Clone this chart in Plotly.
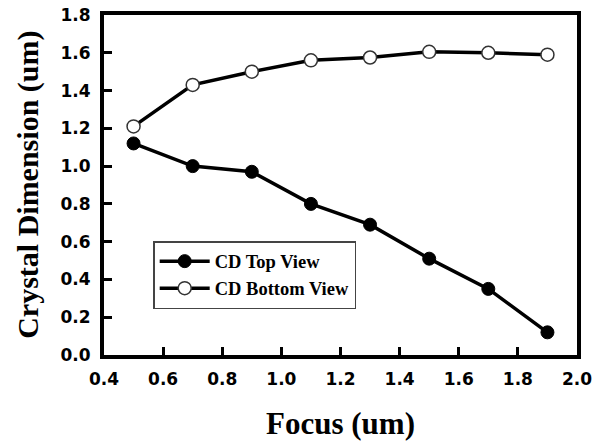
import plotly.graph_objects as go

focus = [0.5, 0.7, 0.9, 1.1, 1.3, 1.5, 1.7, 1.9]
cd_top = [1.12, 1.00, 0.97, 0.80, 0.69, 0.51, 0.35, 0.12]
cd_bottom = [1.21, 1.43, 1.50, 1.56, 1.575, 1.605, 1.60, 1.59]
x_ticks = [0.4, 0.6, 0.8, 1.0, 1.2, 1.4, 1.6, 1.8, 2.0]
y_ticks = [0.0, 0.2, 0.4, 0.6, 0.8, 1.0, 1.2, 1.4, 1.6, 1.8]

fig = go.Figure()
fig.add_trace(go.Scatter(
    x=focus, y=cd_top, name="CD Top View", mode="lines+markers",
    line=dict(color="black", width=3.5),
    marker=dict(symbol="circle", size=13, color="black", line=dict(color="black", width=1)),
))
fig.add_trace(go.Scatter(
    x=focus, y=cd_bottom, name="CD Bottom View", mode="lines+markers",
    line=dict(color="black", width=3.5),
    marker=dict(symbol="circle", size=13, color="white", line=dict(color="#333333", width=1.5)),
))

tick_font = dict(family="DejaVu Sans", size=17, color="black", weight="bold")
title_font = dict(family="Liberation Serif", color="black", weight="bold")
fig.update_layout(
    width=602, height=441,
    margin=dict(l=104, r=25, t=15, b=86, autoexpand=False),
    paper_bgcolor="white", plot_bgcolor="white",
    showlegend=True,
    legend=dict(
        x=0.104, y=0.335, xanchor="left", yanchor="top",
        bgcolor="white", bordercolor="#444444", borderwidth=1.5,
        font=dict(family="Liberation Serif", size=18.5, color="black", weight="bold"),
        tracegroupgap=0, itemwidth=50,
    ),
    annotations=[
        dict(text="Crystal Dimension (um)", xref="paper", yref="paper",
             x=-0.161, y=0.5, xanchor="center", yanchor="middle", textangle=-90,
             showarrow=False, font=dict(size=30, **title_font)),
        dict(text="Focus (um)", xref="paper", yref="paper",
             x=0.5, y=-0.2, xanchor="center", yanchor="middle",
             showarrow=False, font=dict(size=31, **title_font)),
    ],
)
fig.update_xaxes(
    range=[0.4, 2.0], tickvals=x_ticks, ticktext=[f"{v:.1f}" for v in x_ticks],
    showgrid=False, zeroline=False, automargin=False,
    showline=True, linecolor="black", linewidth=4, mirror=True,
    ticks="inside", ticklen=8, tickwidth=3, tickcolor="black",
    tickfont=tick_font, ticklabelstandoff=6, ticklabeloverflow="allow",
)
fig.update_yaxes(
    range=[0.0, 1.8], tickvals=y_ticks, ticktext=[f"{v:.1f}" for v in y_ticks],
    showgrid=False, zeroline=False, automargin=False,
    showline=True, linecolor="black", linewidth=4, mirror=True,
    ticks="inside", ticklen=8, tickwidth=3, tickcolor="black",
    tickfont=tick_font, ticklabelstandoff=6, ticklabeloverflow="allow",
)

# remove the browser's default body margin so the figure fills the window exactly
fig.write_html(
    "out.html",
    config={"displayModeBar": False},
    post_script="document.body.style.margin='0';document.body.style.overflow='hidden';",
)
